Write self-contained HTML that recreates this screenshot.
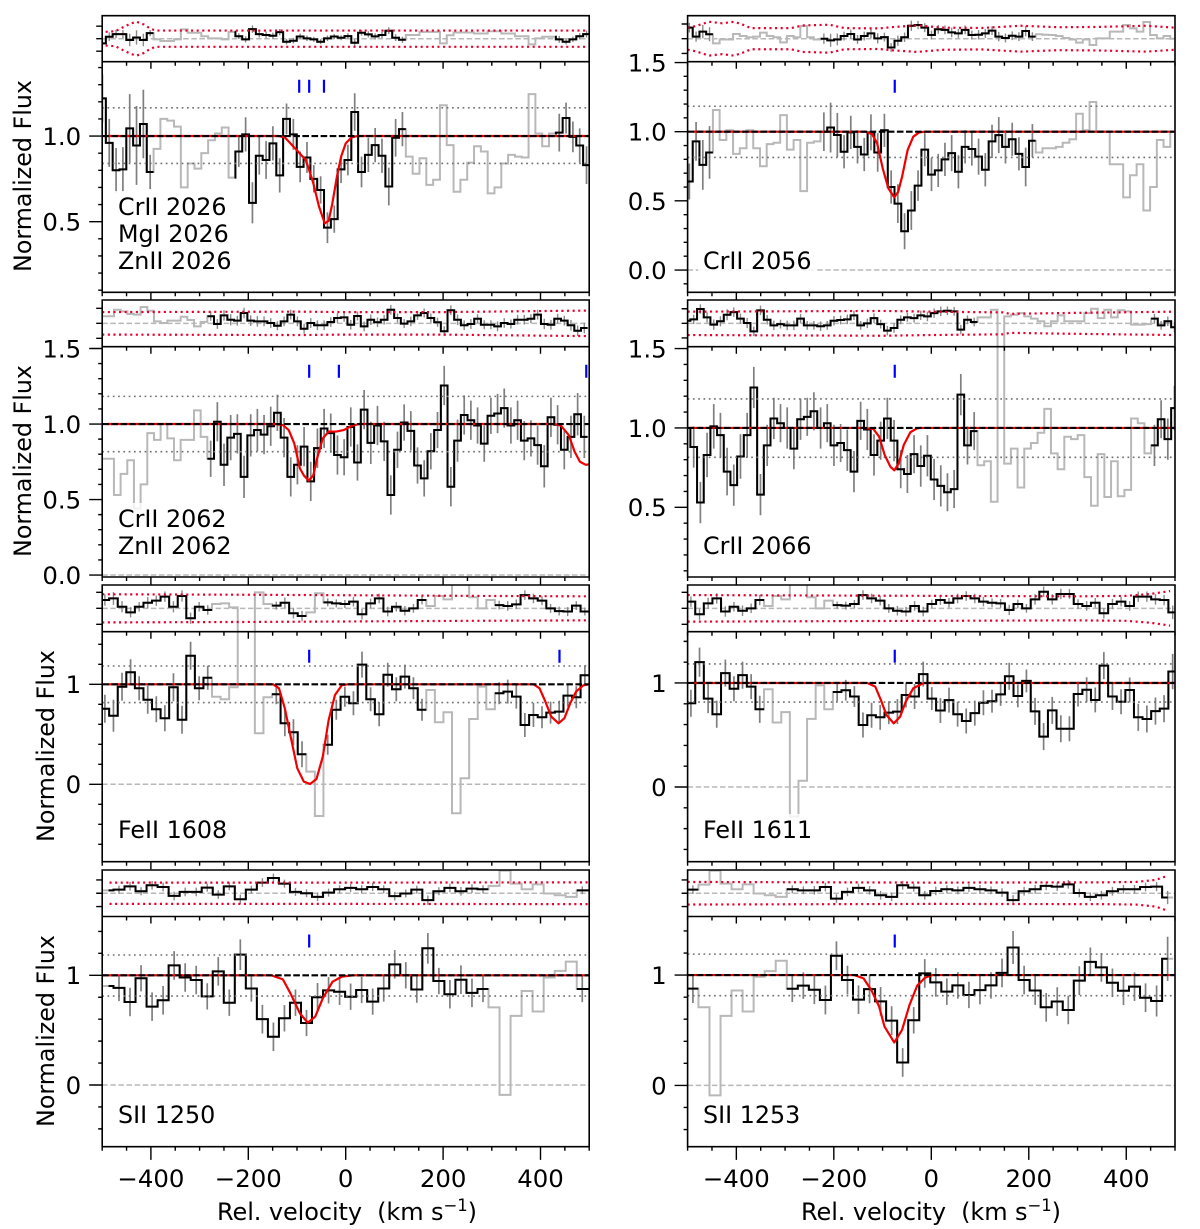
<!DOCTYPE html>
<html>
<head>
<meta charset="utf-8">
<title>Absorption line velocity stack</title>
<style>
html,body{margin:0;padding:0;background:#fff}
svg{display:block}
text{font-family:"DejaVu Sans","Liberation Sans",sans-serif;fill:#000}
</style>
</head>
<body>
<svg id="fig" xmlns="http://www.w3.org/2000/svg" width="1200" height="1229" viewBox="0 0 1200 1229">
<rect x="0" y="0" width="1200" height="1229" fill="#fff"/>
<g id="plots"></g>
<g fill="#fff" fill-opacity="0.82">
<rect x="113" y="191" width="122" height="84"/>
<rect x="698" y="245" width="118" height="31"/>
<rect x="113" y="503" width="122" height="58"/>
<rect x="698" y="529" width="118" height="31"/>
<rect x="113" y="814" width="120" height="31"/>
<rect x="698" y="814" width="120" height="31"/>
<rect x="113" y="1099" width="107" height="31"/>
<rect x="698" y="1099" width="107" height="31"/>
</g>
<g font-size="23.8">
<text x="118" y="215">CrII 2026</text>
<text x="118" y="242">MgI 2026</text>
<text x="118" y="269">ZnII 2026</text>
<text x="703" y="269">CrII 2056</text>
<text x="118" y="527">CrII 2062</text>
<text x="118" y="554">ZnII 2062</text>
<text x="703" y="554">CrII 2066</text>
<text x="118" y="838">FeII 1608</text>
<text x="703" y="838">FeII 1611</text>
<text x="118" y="1123">SII 1250</text>
<text x="703" y="1123">SII 1253</text>
</g>
<g font-size="23.8" text-anchor="middle">
<text transform="translate(31,176) rotate(-90)">Normalized Flux</text>
<text transform="translate(31,461) rotate(-90)">Normalized Flux</text>
<text transform="translate(54,746) rotate(-90)">Normalized Flux</text>
<text transform="translate(54,1031) rotate(-90)">Normalized Flux</text>
</g>
<g font-size="24">
<text x="217" y="1220" textLength="260" lengthAdjust="spacing" style="white-space:pre">Rel. velocity  (km s<tspan font-size="16.5" dy="-9">−1</tspan><tspan dy="9">)</tspan></text>
<text x="801" y="1220" textLength="260" lengthAdjust="spacing" style="white-space:pre">Rel. velocity  (km s<tspan font-size="16.5" dy="-9">−1</tspan><tspan dy="9">)</tspan></text>
</g>
</svg>
<script>
/* ---------- shared axis data ---------- */
const velocityTicks = [-400, -200, 0, 200, 400];
const velocityTickLabels = ['\u2212400', '\u2212200', '0', '200', '400'];
const velocityMinorTicks = [-500, -450, -350, -300, -250, -150, -100, -50, 50, 100, 150, 250, 300, 350, 450, 500];
const residualTicks = [-1, 0, 1];
const residualErrorRatio = 2.5;

/* ---------- Cr II 2026 ---------- */
const cr2026BinStart = -506.5;
const cr2026BinWidth = 14.0;
const cr2026Flux = [1.22,.96,.80,.805,1.045,.945,1.07,.79,
 .925,1.10,1.09,1.055,.70,.84,.81,.90,.975,1.015,1.05,.757,
 .91,1.01,.61,.885,.86,.957,.77,1.10,1.01,.82,.875,.75,.685,.465,.515,.805,.86,1.14,.79,.89,.947,.885,.705,.99,1.04,
 .88,.78,.87,.715,.745,1.18,.947,.675,.745,.845,.94,.91,.665,.70,.84,.89,.88,.875,1.245,1.015,.94,1.015,
 1.02,1.105,.995,.945,.83];
const cr2026Err = [.14,.14,.13,.13,.2,.23,.2,.1,
 0,0,0,0,0,0,0,0,0,0,0,0,
 .09,.1,.12,.11,.11,.1,.1,.09,.09,.09,.09,.08,.08,.09,.08,.08,.09,.11,.09,.1,.1,.1,.11,.11,.1,
 0,0,0,0,0,0,0,0,0,0,0,0,0,0,0,0,0,0,0,0,0,0,
 .11,.09,.09,.1,.11];
const cr2026Resid = [-.37,.16,.37,.37,-.1,.1,-.1,.45,
 -.05,-.18,-.18,-.05,.75,.48,.48,.2,.03,.03,-.05,.55,
 .2,-.05,.77,.37,.3,.24,.53,-.24,-.16,.18,.03,-.05,-.24,.03,.18,.08,.21,-.32,.48,.35,.19,.3,.64,.08,-.08,
 .3,.3,.55,.55,.55,-.37,.28,.5,.5,.5,.42,.42,.6,.6,.42,.42,.2,.2,-.45,.03,.16,.16,
 -.05,-.24,-.05,.2,.37];
const cr2026Good = [[-500,-394.5],[-228,124],[430,500]];
const cr2026ModelVel = [-489,-137,-125,-113.5,-98,-82,-76,-66.5,-55,-43,-35,-27.4,-18,-9.4,0,12,23.5,500];
const cr2026ModelFlux = [1,1,.992,.957,.91,.86,.81,.724,.59,.49,.505,.607,.763,.88,.957,.992,1,1];
const cr2026BandVel = [-493,-473,-458,-442,-430,-415,-403,-391,500];
const cr2026Band = [.55,.6,.9,1.2,1.36,1.15,.85,.65,.65];
const cr2026Sigma = [.84,1.165];
const cr2026Components = [-95.5,-75,-44.6];
const cr2026YTicks = [0.5,1.0];
const cr2026YLabels = ['0.5','1.0'];

/* ---------- Cr II 2056 ---------- */
const cr2056BinStart = -503.3;
const cr2056BinWidth = 13.8;
const cr2056Flux = [.64,.93,.76,.85,
 1.157,.94,1.01,.84,.88,1.01,.88,.75,.91,.92,1.12,.87,.94,.57,.92,.93,
 1.0,1.03,.976,.855,.995,.89,.835,.995,.85,1.01,.60,.48,.28,.43,.61,.87,.69,.72,.80,.845,.71,.89,.875,.82,.725,.93,.975,.89,.945,.84,.745,.935,
 .85,.88,.88,.89,.92,.945,1.13,1.01,1.215,1.0,1.0,.765,.765,.525,.685,.765,.43,.6,.94,.89,1.0];
const cr2056Err = [.13,.14,.18,.19,
 0,0,0,0,0,0,0,0,0,0,0,0,0,0,0,0,
 .14,.18,.16,.12,.12,.12,.12,.13,.14,.12,.12,.14,.13,.14,.11,.12,.12,.12,.12,.13,.12,.12,.12,.13,.12,.12,.13,.12,.12,.12,.14,.12,
 0,0,0,0,0,0,0,0,0,0,0,0,0,0,0,0,0,0,0,0,0];
const cr2056Resid = [.75,.14,.48,.3,
 -.32,-.05,-.05,.32,.18,.1,.14,.41,.18,.1,-.25,.18,.1,.86,.1,-.05,
 0,-.11,-.05,.18,.32,-.05,.18,.36,.02,.11,-.6,-.14,.1,.88,.93,.75,.25,.64,.6,.43,.36,.6,.25,.27,.36,.55,.14,.05,.2,.14,.52,.14,
 .3,.27,.25,.18,.05,-.05,-.27,-.05,-.43,.02,.02,.48,.48,.93,.7,.48,1.14,.25,.02,.18,0];
const cr2056Good = [[-500,-448],[-227,214]];
const cr2056ModelVel = [-488,-135,-121.6,-111,-99.6,-88,-76,-68,-60,-48.6,-37,-25,-13,500];
const cr2056ModelFlux = [1,1,.983,.915,.734,.59,.525,.565,.674,.867,.964,.995,1,1];
const cr2056BandVel = [-500,-484,-456,-429,-405,-390,-370,-288,-264,-209,-178,-107,-76,-29,26,104,183,261,340,441,500];
const cr2056Band = [.75,.85,1.15,1.05,1.15,1.0,.72,.72,.9,.95,.72,.7,.8,.9,.75,.73,.88,.78,.8,.88,.75];
const cr2056Sigma = [.814,1.184];
const cr2056Components = [-75];
const cr2056YTicks = [0,0.5,1.0,1.5];
const cr2056YLabels = ['0.0','0.5','1.0','1.5'];

/* ---------- Cr II 2062 ---------- */
const cr2062BinStart = -503.3;
const cr2062BinWidth = 13.7;
const cr2062Flux = [.77,.77,.53,.67,.76,.44,.6,.94,.895,1.0,.905,.76,.895,.895,1.09,.915,
 .77,1.015,.73,.91,.935,.65,.925,.96,.93,.985,1.075,.91,.65,.73,.85,.62,.84,.97,.94,.795,.78,.98,.745,1.095,.875,.99,.885,.53,.83,1.01,.955,.725,.64,.82,.96,1.255,.585,.89,1.06,1.025,.99,.87,1.055,1.07,1.105,.99,1.025,.89,.905,.86,.72,1.045,.995,.83,.915,1.065,.915];
const cr2062Err = [0,0,0,0,0,0,0,0,0,0,0,0,0,0,0,0,
 .12,.13,.14,.15,.13,.14,.14,.14,.13,.13,.12,.13,.13,.13,.13,.13,.13,.13,.13,.13,.12,.13,.12,.13,.14,.13,.13,.13,.12,.12,.13,.12,.12,.12,.12,.13,.13,.14,.13,.13,.12,.12,.12,.13,.13,.12,.13,.13,.12,.13,.14,.13,.13,.13,.14,.14,.14];
const cr2062Resid = [.47,.47,.91,.8,.62,.58,1.09,.84,.13,.02,.18,.18,.44,.22,-.2,.1,
 .47,-.04,.53,.24,.18,.69,.18,.13,.13,.02,-.16,.13,.58,.13,-.36,.02,-.13,-.13,.09,.36,.4,-.09,.49,-.2,.24,.07,.24,.91,.36,-.02,.13,.53,.69,.36,.07,-.53,.87,.24,-.13,-.04,.31,-.09,-.09,-.2,.02,-.04,.24,.24,.31,.58,-.04,-.09,.31,.18,-.13,-.49,-.31];
const cr2062Good = [[-284,500]];
const cr2062ModelVel = [-489,-145,-129,-117,-105.7,-94,-86,-76,-66.5,-58.7,-47,-35,-19.6,-4,11.7,27,430,442,458,470,481,493,500];
const cr2062ModelFlux = [1,1,.993,.96,.872,.706,.66,.625,.66,.773,.905,.95,.95,.96,.987,1,1,.989,.927,.817,.75,.73,.733];
const cr2062BandVel = [-500,-100,0,200,400,500];
const cr2062Band = [.75,.78,.75,.75,.82,.85];
const cr2062Sigma = [.817,1.183];
const cr2062Components = [-75,-14,494];
const cr2062YTicks = [0,0.5,1.0,1.5];
const cr2062YLabels = ['0.0','0.5','1.0','1.5'];

/* ---------- Cr II 2066 ---------- */
const cr2066BinStart = -508;
const cr2066BinWidth = 13.7;
const cr2066Flux = [1.0,.88,.53,.83,1.01,.955,.725,.64,.82,.955,1.255,.58,.89,1.06,1.03,1.0,.87,1.055,1.07,1.105,1.0,1.03,.89,.905,.86,.725,1.045,.99,.83,.92,1.06,.92,.74,.71,.835,.76,.825,.675,.635,.595,.615,1.21,.89,.98,
 .765,.79,.535,2.0,.775,.87,.625,.87,.905,.97,1.12,.84,.74,.945,.93,.955,.69,.51,.835,.565,.79,.57,.61,1.06,1.03,.84,
 .89,1.055,.93,1.125];
const cr2066Err = [.13,.13,.13,.14,.14,.14,.15,.13,.14,.14,.13,.13,.13,.13,.12,.13,.13,.13,.12,.12,.13,.12,.13,.12,.13,.13,.12,.13,.13,.12,.13,.13,.12,.12,.12,.13,.13,.13,.13,.12,.12,.13,.12,.12,
 0,0,0,0,0,0,0,0,0,0,0,0,0,0,0,0,0,0,0,0,0,0,0,0,0,0,
 .13,.12,.13,.14];
const cr2066Resid = [.18,.27,.98,.41,-.09,.14,.59,.77,.32,.02,-.55,.89,.25,-.14,-.05,-.14,-.14,.32,-.14,-.14,-.2,-.14,.18,.23,.27,.55,-.14,0,.36,-.05,-.5,-.32,.25,.41,.36,.55,.48,.7,.82,.86,.82,-.43,.25,.09,
 .41,.41,.93,-2.5,.48,.59,.7,.48,.32,.14,-.2,.14,.55,.14,.14,.14,.7,1.0,.36,.93,.41,.9,.82,-.09,-.09,-.05,
 .32,-.14,.14,-.27];
const cr2066Good = [[-500,95],[451,500]];
const cr2066ModelVel = [-496,-139,-119,-107,-95.7,-84,-76,-66.7,-56.5,-43,-29,-21,500];
const cr2066ModelFlux = [1,1,.994,.945,.83,.756,.733,.777,.893,.973,.998,1,1];
const cr2066BandVel = [-500,-100,0,150,160,300,500];
const cr2066Band = [.8,.85,.8,.75,.65,.72,.8];
const cr2066Sigma = [.815,1.183];
const cr2066Components = [-75];
const cr2066YTicks = [0.5,1.0,1.5];
const cr2066YLabels = ['0.5','1.0','1.5'];

/* ---------- Fe II 1608 ---------- */
const fe1608BinStart = -503.3;
const fe1608BinWidth = 17.6;
const fe1608Flux = [.755,.685,.975,1.12,.96,.845,.75,.66,.97,.645,1.285,.96,1.065,
 .875,.85,.97,1.7,1.9,.51,.87,
 .90,.61,.52,.30,
 .127,-.317,
 .395,.745,.875,.81,1.197,.85,.70,1.095,.95,1.077,.96,.745,
 .943,.62,.72,-.29,.06,.653,.977,.75,
 .91,.927,.877,.593,.693,.67,.717,.727,.887,.87,1.09];
const fe1608Err = [.14,.16,.14,.13,.12,.14,.13,.13,.14,.14,.14,.12,.12,
 0,0,0,0,0,0,0,
 .1,.13,.13,.13,
 0,0,
 .1,.1,.1,.12,.13,.12,.12,.12,.12,.12,.11,.11,
 0,0,0,0,0,0,0,0,
 .11,.12,.12,.12,.12,.11,.11,.11,.11,.11,.1];
const fe1608Resid = [.52,.62,.1,-.25,.1,.35,.48,.73,.1,.77,-.62,.1,-.1,
 .27,.31,.06,-2.5,-2.5,1.0,.27,
 .17,.35,-.31,-.48,
 -.25,.94,
 .37,.31,.27,.42,-.37,.31,.62,-.2,.1,-.15,0,.52,
 .15,.77,.56,1.7,1.7,.69,0,.52,
 .2,.15,.25,.83,.62,.48,0,-.17,-.2,.17,-.2];
const fe1608Good = [[-500,-274.5],[-151.3,-80.9],[-45.7,165.5],[306.3,500]];
const fe1608ModelVel = [-489,-149,-137,-125,-113,-99.4,-86,-73,-60,-47,-35,-22,-8,4,386,398,410,422,437,449,461,473,488,500];
const fe1608ModelFlux = [1,1,.96,.76,.477,.16,.027,.003,.053,.277,.643,.893,.99,1,1,.96,.827,.677,.61,.66,.81,.927,.99,1];
const fe1608BandVel = [-500,-200,0,250,500];
const fe1608Band = [.88,.85,.82,.78,.75];
const fe1608Sigma = [.817,1.183];
const fe1608Components = [-75,439];
const fe1608YTicks = [0,1];
const fe1608YLabels = ['0','1'];

/* ---------- Fe II 1611 ---------- */
const fe1611BinStart = -502;
const fe1611BinWidth = 17.65;
const fe1611Flux = [.805,1.2,.85,.70,1.095,.945,1.075,.965,.747,
 .94,.62,.72,-.285,.06,.655,.977,.747,
 .913,.93,.87,.596,.69,.67,.715,.725,.885,.87,1.085,.85,.735,.835,.70,.635,.71,.81,.825,.89,1.065,.875,1.02,.727,.484,.737,.56,.56,.894,.935,.837,1.167,.87,.82,.933,.67,.654,.73,.753,1.11];
const fe1611Err = [.13,.14,.14,.13,.13,.12,.13,.12,.13,
 0,0,0,0,0,0,0,0,
 .09,.1,.1,.12,.12,.12,.11,.12,.12,.12,.12,.11,.12,.12,.12,.12,.12,.12,.11,.11,.13,.11,.11,.13,.13,.13,.13,.12,.12,.12,.12,.13,.13,.12,.12,.13,.13,.13,.13,.17];
const fe1611Resid = [.42,-.37,.31,.62,-.2,.1,-.15,0,.52,
 .15,.77,.56,1.7,1.7,.69,0,.48,
 .2,.17,.27,.83,.62,.48,0,-.15,-.2,.15,-.2,.27,.52,.35,.62,.77,.62,.42,.35,.31,-.1,.27,0,.56,1.04,.56,.9,.9,.27,.15,.35,-.31,.27,.42,.15,.73,.73,.56,.52,-.25];
const fe1611Good = [[-500,-343],[-202,500]];
const fe1611ModelVel = [-488,-131,-115,-103.5,-92,-77,-64,-52.5,-37,-17,-9,500];
const fe1611ModelFlux = [1,1,.965,.837,.692,.612,.676,.82,.949,.997,1,1];
const fe1611BandVel = [-500,-200,100,300,400,450,490];
const fe1611Band = [.83,.8,.77,.75,.78,.9,1.08];
const fe1611Sigma = [.817,1.183];
const fe1611Components = [-75];
const fe1611YTicks = [0,1];
const fe1611YLabels = ['0','1'];

/* ---------- S II 1250 ---------- */
const s1250BinStart = -499.5;
const s1250BinWidth = 22.65;
const s1250Flux = [.903,.885,.757,.973,.714,.772,1.09,.98,.957,.808,1.036,.75,1.188,.88,.6,.44,.608,.75,.565,.8,.863,.85,.805,.866,.76,.88,1.10,1.0,.87,1.246,.948,.827,.96,.84,.875,
 .708,-.09,.63,.857,.67,.98,1.04,1.125,
 .875,.875];
const s1250Err = [.11,.12,.13,.12,.13,.13,.13,.13,.13,.12,.13,.12,.14,.12,.13,.13,.12,.12,.12,.13,.12,.12,.12,.12,.12,.12,.13,.12,.12,.14,.12,.13,.13,.13,.12,
 0,0,0,0,0,0,0,0,
 .12,.12];
const s1250Resid = [.22,.27,.52,.15,.6,.47,-.2,.1,.1,.42,-.1,.52,-.45,.27,.8,1.15,.72,.1,0,-.27,.05,.3,.4,.3,.47,.3,-.22,-.02,.27,-.52,.15,.4,.15,.35,.3,
 .55,1.7,.72,.3,.67,-.02,-.15,-.27,
 .22,.22];
const s1250Good = [[-487,293],[474.5,500]];
const s1250ModelVel = [-501,-152.6,-129,-113.5,-94,-78,-62.6,-47,-27,-8,15.6,500];
const s1250ModelFlux = [1,1,.963,.836,.653,.568,.623,.79,.942,.988,1,1];
const s1250BandVel = [-485,0,500];
const s1250Band = [.8,.8,.82];
const s1250Sigma = [.811,1.185];
const s1250Components = [-75];
const s1250YTicks = [0,1];
const s1250YLabels = ['0','1'];

/* ---------- S II 1253 ---------- */
const s1253BinStart = -500.4;
const s1253BinWidth = 22.65;
const s1253Flux = [.877,
 .708,-.09,.63,.86,.67,.985,1.036,1.13,
 .876,.904,.867,.774,1.175,.955,.777,.873,.762,.587,.208,.59,1.015,.934,.85,.907,.82,.864,.907,1.02,1.25,.955,.86,.708,.76,.684,.95,1.12,1.07,.93,.858,.895,.795,.765,1.148];
const s1253Err = [.13,
 0,0,0,0,0,0,0,0,
 .12,.12,.13,.13,.13,.13,.13,.13,.13,.13,.13,.12,.13,.13,.12,.12,.12,.13,.12,.13,.15,.13,.13,.13,.13,.13,.13,.13,.13,.13,.13,.13,.13,.14,.2];
const s1253Resid = [.27,
 .65,1.7,.72,.3,.67,-.02,-.15,-.27,
 .3,.22,.22,.47,-.4,.1,.4,.22,-.15,-.27,.6,.42,-.15,.17,.3,.22,.4,.3,.22,.05,-.52,.15,.3,.55,.5,.67,.02,-.27,-.15,.15,.3,.3,.47,.5,-.32];
const s1253Good = [[-500,-478],[-296.6,485]];
const s1253ModelVel = [-500,-158,-139,-123,-107,-96,-76,-60,-44.7,-29,-13,2,500];
const s1253ModelFlux = [1,1,.97,.864,.714,.533,.389,.503,.729,.904,.976,1,1];
const s1253BandVel = [-500,0,350,420,460,484];
const s1253Band = [.85,.8,.82,.85,1.0,1.3];
const s1253Sigma = [.813,1.19];
const s1253Components = [-75];
const s1253YTicks = [0,1];
const s1253YLabels = ['0','1'];

/* ---------- layout (not data) ---------- */
const columns = [{x0:102.2,x1:589.2},{x0:687.6,x1:1175}];
const rows = [
 {t:15.7,m:61.7,b:292.3},
 {t:300,m:346.7,b:577},
 {t:585,m:631.7,b:861.7},
 {t:870,m:916.5,b:1146.7}
];
const panels = [
 {id:'cr2026',c:0,r:0,top:1.434,bot:.0876,minor:.1,resPx:12.5,flux:cr2026Flux,err:cr2026Err,res:cr2026Resid,start:cr2026BinStart,w:cr2026BinWidth,good:cr2026Good,mv:cr2026ModelVel,mf:cr2026ModelFlux,bv:cr2026BandVel,bd:cr2026Band,sig:cr2026Sigma,comps:cr2026Components,yt:cr2026YTicks,yl:cr2026YLabels},
 {id:'cr2056',c:1,r:0,top:1.506,bot:-.161,minor:.1,resPx:14.7,flux:cr2056Flux,err:cr2056Err,res:cr2056Resid,start:cr2056BinStart,w:cr2056BinWidth,good:cr2056Good,mv:cr2056ModelVel,mf:cr2056ModelFlux,bv:cr2056BandVel,bd:cr2056Band,sig:cr2056Sigma,comps:cr2056Components,yt:cr2056YTicks,yl:cr2056YLabels},
 {id:'cr2062',c:0,r:1,top:1.512,bot:-.013,minor:.1,resPx:15,flux:cr2062Flux,err:cr2062Err,res:cr2062Resid,start:cr2062BinStart,w:cr2062BinWidth,good:cr2062Good,mv:cr2062ModelVel,mf:cr2062ModelFlux,bv:cr2062BandVel,bd:cr2062Band,sig:cr2062Sigma,comps:cr2062Components,yt:cr2062YTicks,yl:cr2062YLabels},
 {id:'cr2066',c:1,r:1,top:1.512,bot:.061,minor:.1,resPx:14.6,flux:cr2066Flux,err:cr2066Err,res:cr2066Resid,start:cr2066BinStart,w:cr2066BinWidth,good:cr2066Good,mv:cr2066ModelVel,mf:cr2066ModelFlux,bv:cr2066BandVel,bd:cr2066Band,sig:cr2066Sigma,comps:cr2066Components,yt:cr2066YTicks,yl:cr2066YLabels},
 {id:'fe1608',c:0,r:2,top:1.526,bot:-.774,minor:.2,resPx:16,flux:fe1608Flux,err:fe1608Err,res:fe1608Resid,start:fe1608BinStart,w:fe1608BinWidth,good:fe1608Good,mv:fe1608ModelVel,mf:fe1608ModelFlux,bv:fe1608BandVel,bd:fe1608Band,sig:fe1608Sigma,comps:fe1608Components,yt:fe1608YTicks,yl:fe1608YLabels},
 {id:'fe1611',c:1,r:2,top:1.493,bot:-.718,minor:.2,resPx:16,flux:fe1611Flux,err:fe1611Err,res:fe1611Resid,start:fe1611BinStart,w:fe1611BinWidth,good:fe1611Good,mv:fe1611ModelVel,mf:fe1611ModelFlux,bv:fe1611BandVel,bd:fe1611Band,sig:fe1611Sigma,comps:fe1611Components,yt:fe1611YTicks,yl:fe1611YLabels},
 {id:'s1250',c:0,r:3,top:1.536,bot:-.5625,minor:.2,resPx:13.3,flux:s1250Flux,err:s1250Err,res:s1250Resid,start:s1250BinStart,w:s1250BinWidth,good:s1250Good,mv:s1250ModelVel,mf:s1250ModelFlux,bv:s1250BandVel,bd:s1250Band,sig:s1250Sigma,comps:s1250Components,yt:s1250YTicks,yl:s1250YLabels},
 {id:'s1253',c:1,r:3,top:1.531,bot:-.5556,minor:.2,resPx:13.3,flux:s1253Flux,err:s1253Err,res:s1253Resid,start:s1253BinStart,w:s1253BinWidth,good:s1253Good,mv:s1253ModelVel,mf:s1253ModelFlux,bv:s1253BandVel,bd:s1253Band,sig:s1253Sigma,comps:s1253Components,yt:s1253YTicks,yl:s1253YLabels}
];

const NS = 'http://www.w3.org/2000/svg';
const root = document.getElementById('plots');
const defs = document.createElementNS(NS, 'defs');
root.appendChild(defs);

function addGroup(parent, name) {
  const el = document.createElementNS(NS, 'g');
  
  
  parent.appendChild(el);
  return el;
}
function addPath(parent, name, d, stroke, width, dash) {
  const el = document.createElementNS(NS, 'path');
  
  
  el.setAttribute('d', d);
  el.setAttribute('fill', 'none');
  el.setAttribute('stroke', stroke);
  el.setAttribute('stroke-width', width);
  if (dash) el.setAttribute('stroke-dasharray', dash);
  parent.appendChild(el);
  return el;
}
function addText(parent, name, x, y, str, anchor) {
  const el = document.createElementNS(NS, 'text');
  
  
  el.setAttribute('x', x);
  el.setAttribute('y', y);
  el.setAttribute('font-size', '24.4');
  el.setAttribute('text-anchor', anchor);
  el.textContent = str;
  parent.appendChild(el);
  return el;
}
function stepPath(values, start, width, xf, yf, lo, hi) {
  let d = '';
  for (let i = 0; i < values.length; i++) {
    const l = start + i * width, r = l + width;
    if (r <= lo + 0.5 || l >= hi - 0.5) continue;
    const cl = Math.max(l, lo), cr = Math.min(r, hi);
    d += (d ? 'L' : 'M') + xf(cl).toFixed(2) + ' ' + yf(values[i]).toFixed(2);
    d += 'L' + xf(cr).toFixed(2) + ' ' + yf(values[i]).toFixed(2);
  }
  return d;
}
function addClip(id, x, y, w, h) {
  const cp = document.createElementNS(NS, 'clipPath');
  cp.setAttribute('id', id);
  const rc = document.createElementNS(NS, 'rect');
  rc.setAttribute('x', x);
  rc.setAttribute('y', y);
  rc.setAttribute('width', w);
  rc.setAttribute('height', h);
  cp.appendChild(rc);
  defs.appendChild(cp);
}

panels.forEach(function (p) {
  const col = columns[p.c], row = rows[p.r];
  const isBottom = p.r === 3;
  const W = col.x1 - col.x0;
  const xScale = function (v) { return col.x0 + (v + 500) / 1000 * W; };
  const yScale = function (f) { return row.m + (p.top - f) / (p.top - p.bot) * (row.b - row.m); };
  const resC = (row.t + row.m) / 2;
  const resScale = function (v) { return resC - v * p.resPx; };

  const g = addGroup(root, 'panel-' + p.id);
  addClip('clip-main-' + p.id, col.x0, row.m, W, row.b - row.m);
  addClip('clip-res-' + p.id, col.x0, row.t, W, row.m - row.t);

  /* ---- main panel ---- */
  const main = addGroup(g, 'flux-plot-' + p.id);
  main.setAttribute('clip-path', 'url(#clip-main-' + p.id + ')');
  addPath(main, 'masked-flux-step', stepPath(p.flux, p.start, p.w, xScale, yScale, -Infinity, Infinity), '#b8b8b8', 2);

  let errD = '';
  p.flux.forEach(function (f, i) {
    const c = p.start + (i + .5) * p.w;
    if (p.err[i] > 0 && p.good.some(function (rg) { return c >= rg[0] && c <= rg[1]; })) {
      errD += 'M' + xScale(c).toFixed(2) + ' ' + yScale(f + p.err[i]).toFixed(2) + 'V' + yScale(f - p.err[i]).toFixed(2);
    }
  });
  addPath(main, 'flux-error-bars', errD, '#7f7f7f', 1.7);
  p.good.forEach(function (rg) {
    addPath(main, 'flux-step', stepPath(p.flux, p.start, p.w, xScale, yScale, rg[0], rg[1]), '#000', 2);
  });
  p.sig.forEach(function (s) {
    addPath(main, 'sigma-dotted-line', 'M' + col.x0 + ' ' + yScale(s) + 'H' + col.x1, '#707070', 1.6, '1.7 3.6');
  });
  addPath(main, 'zero-flux-line', 'M' + col.x0 + ' ' + yScale(0) + 'H' + col.x1, '#b8b8b8', 1.5, '5.5 2.6');
  let modelD = '';
  p.mv.forEach(function (v, i) {
    modelD += (i ? 'L' : 'M') + xScale(v).toFixed(2) + ' ' + yScale(p.mf[i]).toFixed(2);
  });
  addPath(main, 'model-fit-curve', modelD, '#f00000', 2.2).setAttribute('stroke-linejoin', 'round');
  addPath(main, 'continuum-line', 'M' + col.x0 + ' ' + yScale(1) + 'H' + col.x1, '#000', 2.1, '6.6 2.5');
  p.comps.forEach(function (v) {
    addPath(main, 'absorption-component-tick', 'M' + xScale(v).toFixed(2) + ' ' + (row.m + 18) + 'v13', '#0000ff', 2.2);
  });

  /* ---- residual panel ---- */
  const res = addGroup(g, 'residual-plot-' + p.id);
  res.setAttribute('clip-path', 'url(#clip-res-' + p.id + ')');
  addPath(res, 'residual-zero-line', 'M' + col.x0 + ' ' + resC + 'H' + col.x1, '#b8b8b8', 1.5, '5.5 2.6');
  addPath(res, 'masked-residual-step', stepPath(p.res, p.start, p.w, xScale, resScale, -Infinity, Infinity), '#b8b8b8', 2);
  let resErrD = '';
  p.res.forEach(function (f, i) {
    const c = p.start + (i + .5) * p.w;
    if (p.err[i] > 0 && p.good.some(function (rg) { return c >= rg[0] && c <= rg[1]; })) {
      const e = p.err[i] * residualErrorRatio;
      resErrD += 'M' + xScale(c).toFixed(2) + ' ' + resScale(f + e).toFixed(2) + 'V' + resScale(f - e).toFixed(2);
    }
  });
  addPath(res, 'residual-error-bars', resErrD, '#8a8a8a', 1.4);
  p.good.forEach(function (rg) {
    addPath(res, 'residual-step', stepPath(p.res, p.start, p.w, xScale, resScale, rg[0], rg[1]), '#000', 2);
  });
  let upD = '', loD = '';
  p.bv.forEach(function (v, i) {
    upD += (i ? 'L' : 'M') + xScale(v).toFixed(2) + ' ' + resScale(p.bd[i]).toFixed(2);
    loD += (i ? 'L' : 'M') + xScale(v).toFixed(2) + ' ' + resScale(-p.bd[i]).toFixed(2);
  });
  addPath(res, 'residual-upper-limit', upD, '#e8002c', 2.2, '2.1 3.5');
  addPath(res, 'residual-lower-limit', loD, '#e8002c', 2.2, '2.1 3.5');

  /* ---- axes ---- */
  const ax = addGroup(g, 'axes-' + p.id);
  let tickD = '';
  const majorLen = isBottom ? 13.2 : 7.6;
  velocityTicks.forEach(function (v) {
    const x = xScale(v).toFixed(2);
    tickD += 'M' + x + ' ' + row.b + 'v' + majorLen;
    tickD += 'M' + x + ' ' + row.m + 'v7';
  });
  velocityMinorTicks.forEach(function (v) {
    const x = xScale(v).toFixed(2);
    tickD += 'M' + x + ' ' + row.b + 'v4';
    tickD += 'M' + x + ' ' + row.m + 'v4';
  });
  p.yt.forEach(function (t) {
    tickD += 'M' + col.x0 + ' ' + yScale(t).toFixed(2) + 'h-13';
  });
  const kLo = Math.ceil(p.bot / p.minor), kHi = Math.floor(p.top / p.minor);
  for (let k = kLo; k <= kHi; k++) {
    tickD += 'M' + col.x0 + ' ' + yScale(k * p.minor).toFixed(2) + 'h-4';
  }
  residualTicks.forEach(function (t) {
    tickD += 'M' + col.x0 + ' ' + resScale(t).toFixed(2) + 'h-6';
  });
  addPath(ax, 'axis-ticks', tickD, '#000', 1.4);
  const frame = 'M' + col.x0 + ' ' + row.t + 'H' + col.x1 + 'V' + row.b + 'H' + col.x0 + 'Z' +
                'M' + col.x0 + ' ' + row.m + 'H' + col.x1;
  addPath(ax, 'axis-frame', frame, '#000', 1.6);

  p.yt.forEach(function (t, i) {
    addText(ax, 'y-tick-label', col.x0 - 21, yScale(t) + 8.9, p.yl[i], 'end');
  });
  if (isBottom) {
    velocityTicks.forEach(function (v, i) {
      addText(ax, 'x-tick-label', xScale(v), 1187, velocityTickLabels[i], 'middle');
    });
  }
});
</script>
</body>
</html>
